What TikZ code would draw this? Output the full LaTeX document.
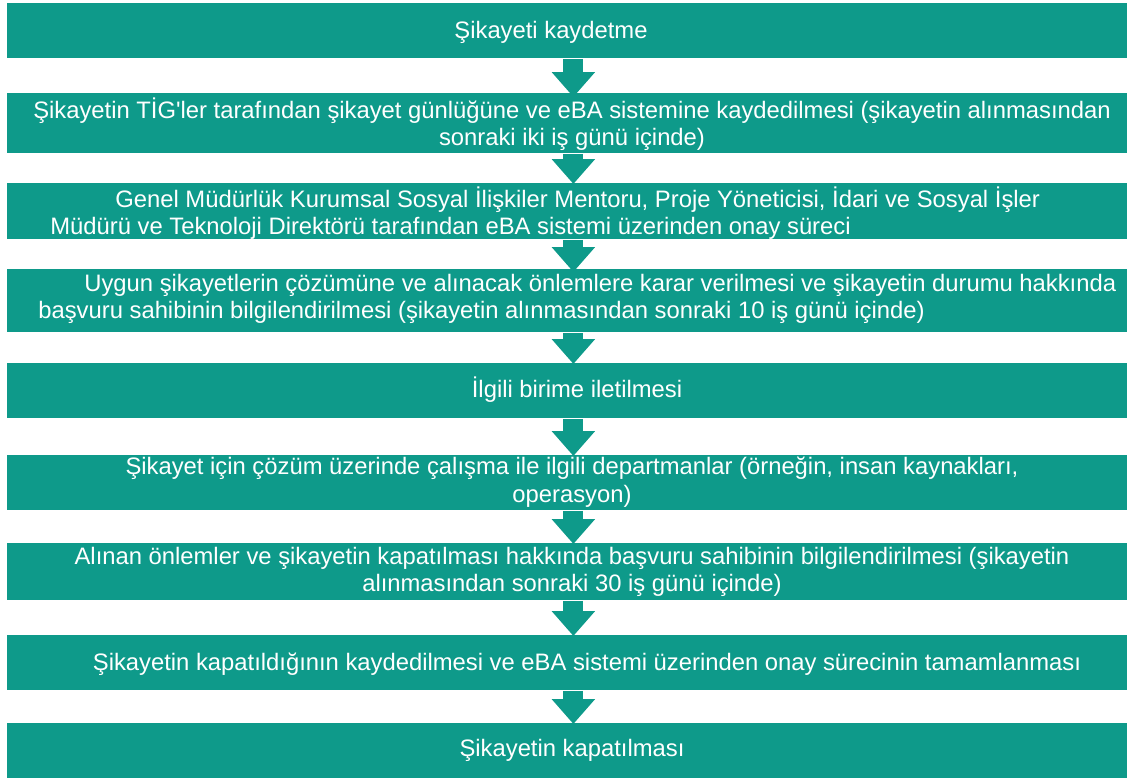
\documentclass[tikz,border=0pt]{standalone}
\usepackage{fontspec}
\setmainfont{Liberation Sans}
\usetikzlibrary{arrows.meta,calc}
\definecolor{stepgreen}{RGB}{14,154,138}
\tikzset{every picture/.style={line width=0.75pt}}
\tikzset{
  stepbar/.style={fill=stepgreen, draw=none, inner sep=0pt, minimum width=1120pt, anchor=north west},
  steptext/.style={text=white, inner sep=0pt, font=\fontsize{23.8}{27.5}\selectfont},
  flowarrow/.style={draw=stepgreen, line width=20pt, -{Triangle[width=42pt,length=25pt]}}
}
\begin{document}
\begin{tikzpicture}[x=1pt,y=1pt,yscale=-1,xscale=1]
    \useasboundingbox (0,0) rectangle (1131,782);

    %Bars
    \node (b1) [stepbar, minimum height=55pt] at (7,3) {};
    \node (b2) [stepbar, minimum height=60pt] at (7,93) {};
    \node (b3) [stepbar, minimum height=56pt] at (7,183) {};
    \node (b4) [stepbar, minimum height=63pt] at (7,269) {};
    \node (b5) [stepbar, minimum height=55pt] at (7,363) {};
    \node (b6) [stepbar, minimum height=55pt] at (7,455) {};
    \node (b7) [stepbar, minimum height=57pt] at (7,543) {};
    \node (b8) [stepbar, minimum height=55pt] at (7,635) {};
    \node (b9) [stepbar, minimum height=55pt] at (7,723) {};

    %Arrows
    \draw [flowarrow] ($(b1.south)+(6,0)$) -- ($(b2.north)+(6,4)$);
    \draw [flowarrow] ($(b2.south)+(6,0)$) -- ($(b3.north)+(6,1)$);
    \draw [flowarrow] ($(b3.south)+(6,0)$) -- ($(b4.north)+(6,3)$);
    \draw [flowarrow] ($(b4.south)+(6,0)$) -- ($(b5.north)+(6,1)$);
    \draw [flowarrow] ($(b5.south)+(6,0)$) -- ($(b6.north)+(6,1)$);
    \draw [flowarrow] ($(b6.south)+(6,0)$) -- ($(b7.north)+(6,1)$);
    \draw [flowarrow] ($(b7.south)+(6,0)$) -- ($(b8.north)+(6,1)$);
    \draw [flowarrow] ($(b8.south)+(6,0)$) -- ($(b9.north)+(6,1)$);

    % Text Node
    \node (t1) [steptext] at (551,32) {Şikayeti kaydetme};
    % Text Node
    \node (t2) [steptext, align=center] at (572,124) {Şikayetin TİG\textquotesingle ler tarafından şikayet günlüğüne ve eBA sistemine kaydedilmesi (şikayetin alınmasından\\sonraki iki iş günü içinde)};
    % Text Node
    \node (t3) [steptext, align=left, anchor=west] at (50,213) {\hspace*{65pt}Genel Müdürlük Kurumsal Sosyal İlişkiler Mentoru, Proje Yöneticisi, İdari ve Sosyal İşler\\Müdürü ve Teknoloji Direktörü tarafından eBA sistemi üzerinden onay süreci};
    % Text Node
    \node (t4) [steptext, align=left, anchor=west] at (38,299) {\hspace*{46pt}Uygun şikayetlerin çözümüne ve alınacak önlemlere karar verilmesi ve şikayetin durumu hakkında\\başvuru sahibinin bilgilendirilmesi (şikayetin alınmasından sonraki 10 iş günü içinde)};
    % Text Node
    \node (t5) [steptext] at (577,390) {İlgili birime iletilmesi};
    % Text Node
    \node (t6) [steptext, align=center] at (572,482) {Şikayet için çözüm üzerinde çalışma ile ilgili departmanlar (örneğin, insan kaynakları,\\operasyon)};
    % Text Node
    \node (t7) [steptext, align=center] at (572,572) {Alınan önlemler ve şikayetin kapatılması hakkında başvuru sahibinin bilgilendirilmesi (şikayetin\\alınmasından sonraki 30 iş günü içinde)};
    % Text Node
    \node (t8) [steptext] at (587,664) {Şikayetin kapatıldığının kaydedilmesi ve eBA sistemi üzerinden onay sürecinin tamamlanması};
    % Text Node
    \node (t9) [steptext] at (572,750) {Şikayetin kapatılması};

\end{tikzpicture}
\end{document}
